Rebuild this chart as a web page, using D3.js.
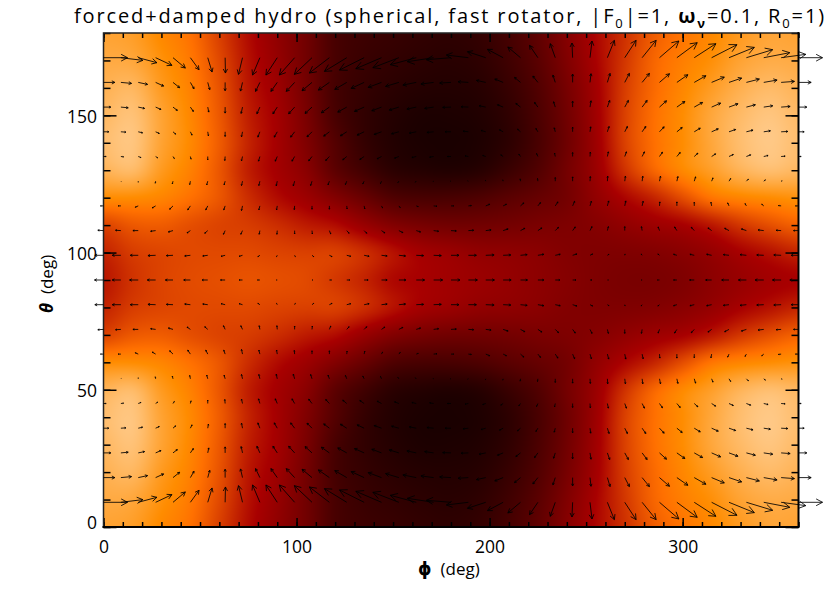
<!DOCTYPE html>
<html>
<head>
<meta charset="utf-8">
<script src="https://cdn.jsdelivr.net/npm/d3@7"></script>
<style>
  body { margin: 0; background: #fff; }
  text { font-family: "Open Sans", sans-serif; fill: #000; }
</style>
</head>
<body>
<div id="chart"></div>
<script>
// Plot constants
const WIDTH = 830;
const HEIGHT = 593;

// Heat field: colour table index
const heatPhi = [0,15,30,45,60,75,90,105,120,135,150,165,180,195,210,225,240,255,270,285,300,315,330,345,360];
const heatTheta = [180,170,160,150,140,130,120,110,100,90,80,70,60,50,40,30,20,10,0];
const heatValues = [
  [203,200,188,176,150,122,100,78,50,42,38,34,32,36,48,66,92,118,142,165,178,188,198,204,203],
  [207,205,193,180,155,125,103,78,50,39,34,30,28,32,44,62,88,116,145,170,183,192,203,208,207],
  [211,214,198,184,160,128,108,80,48,36,29,25,24,27,38,56,82,112,148,172,187,199,210,216,212],
  [215,220,203,187,163,132,112,84,50,34,25,20,20,23,33,52,78,110,150,175,190,205,216,222,216],
  [218,222,203,188,165,135,113,88,58,36,24,19,18,21,31,50,76,108,150,175,190,205,218,224,218],
  [212,216,198,184,162,132,113,95,64,45,30,25,23,27,40,56,80,106,142,170,188,200,212,218,214],
  [190,190,186,176,162,140,122,108,90,72,55,50,50,54,62,70,80,100,118,135,157,178,186,190,193],
  [152,163,165,158,152,148,140,130,122,105,90,82,78,78,80,84,87,92,100,108,115,128,145,158,168],
  [135,148,153,155,155,155,152,150,150,140,125,112,106,100,98,95,90,88,88,90,95,103,115,125,135],
  [128,143,152,156,158,160,158,155,146,135,120,115,110,106,102,97,92,87,84,84,88,97,105,112,116],
  [135,148,153,155,155,155,152,150,150,140,125,112,106,100,98,95,90,88,88,90,95,103,115,125,135],
  [152,163,165,158,152,148,140,130,122,105,90,82,78,78,80,84,87,92,100,108,115,128,145,158,168],
  [190,190,186,176,162,140,122,108,90,72,55,50,50,54,62,70,80,100,118,135,157,178,186,190,193],
  [212,216,198,184,162,132,113,95,64,45,30,25,23,27,40,56,80,106,142,170,188,200,212,218,214],
  [218,222,203,188,165,135,113,88,58,36,24,19,18,21,31,50,76,108,150,175,190,205,218,224,218],
  [215,220,203,187,163,132,112,84,50,34,25,20,20,23,33,52,78,110,150,175,190,205,216,222,216],
  [211,214,198,184,160,128,108,80,48,36,29,25,24,27,38,56,82,112,148,172,187,199,210,216,212],
  [207,205,193,180,155,125,103,78,50,39,34,30,28,32,44,62,88,116,145,170,183,192,203,208,207],
  [203,200,188,176,150,122,100,78,50,42,38,34,32,36,48,66,92,118,142,165,178,188,198,204,203],
];

// Velocity field
const arrowPhi = [0,9,18,27,36,45,54,63,72,81,90,99,108,117,126,135,144,153,162,171,180,189,198,207,216,225,234,243,252,261,270,279,288,297,306,315,324,333,342,351,360];
const arrowTheta = [171,162,153,144,135,126,117,108,99,90,81,72,63,54,45,36,27,18,9];
const arrowU = [
  [72,66,56,49,37,26,13,1,-12,-22,-34,-46,-53,-60,-67,-74,-77,-78,-78,-79,-74,-66,-55,-47,-38,-25,-15,-2,6,21,34,42,58,61,65,76,76,79,78,74,72],
  [34,32,28,24,20,11,6,0,-6,-13,-19,-25,-30,-33,-36,-39,-40,-40,-40,-38,-34,-31,-28,-25,-18,-15,-7,0,3,8,14,22,30,33,35,38,38,39,40,40,38],
  [22,22,19,16,13,9,3,0,-4,-9,-13,-18,-21,-24,-27,-29,-29,-29,-28,-27,-25,-22,-20,-17,-14,-10,-5,0,3,7,11,15,21,24,25,27,27,27,27,27,25],
  [16,15,13,11,8,5,2,0,-3,-6,-9,-12,-15,-17,-19,-21,-22,-22,-21,-20,-18,-16,-14,-11,-9,-6,-3,0,2,5,8,11,14,16,18,20,20,20,20,20,17],
  [8,8,8,6,4,2,0,-1,-3,-4,-6,-8,-10,-11,-12,-13,-13,-13,-13,-12,-11,-10,-9,-7,-5,-4,-2,0,1,3,5,7,9,10,11,12,13,13,13,12,8],
  [0,1,0,-1,-2,-2,-3,-3,-3,-3,-3,-4,-4,-4,-4,-4,-3,-3,-3,-2,-2,-2,-1,-1,-1,-1,0,0,1,1,2,2,3,3,4,4,5,6,5,3,0],
  [-9,-8,-9,-10,-10,-8,-6,-4,-3,-3,-2,-1,0,0,1,2,3,4,6,10,8,9,12,10,10,8,8,6,4,4,3,3,1,0,0,-2,-4,-4,-6,-8,-9],
  [-17,-16,-16,-15,-14,-10,-9,-5,-5,-2,-1,0,1,4,7,8,10,12,13,15,16,16,16,15,13,12,10,8,6,3,0,-2,-4,-7,-9,-11,-13,-15,-17,-15,-15],
  [-26,-26,-24,-23,-20,-17,-15,-12,-10,-6,-2,2,5,8,12,15,17,20,22,23,24,24,25,23,20,18,15,13,8,5,1,-3,-5,-10,-13,-15,-17,-19,-21,-22,-22],
  [-27,-26,-26,-25,-23,-20,-17,-14,-10,-7,-3,0,3,6,9,12,17,21,25,27,27,27,26,24,21,18,14,10,6,3,0,-3,-6,-10,-14,-18,-22,-24,-26,-26,-26],
  [-26,-26,-24,-23,-20,-17,-15,-12,-10,-6,-2,2,5,8,12,15,17,20,22,23,24,24,25,23,20,18,15,13,8,5,1,-3,-5,-10,-13,-15,-17,-19,-21,-22,-22],
  [-17,-16,-16,-15,-14,-10,-9,-5,-5,-2,-1,0,1,4,7,8,10,12,13,15,16,16,16,15,13,12,10,8,6,3,0,-2,-4,-7,-9,-11,-13,-15,-17,-15,-15],
  [-9,-8,-9,-10,-10,-8,-6,-4,-3,-3,-2,-1,0,0,1,2,3,4,6,10,8,9,12,10,10,8,8,6,4,4,3,3,1,0,0,-2,-4,-4,-6,-8,-9],
  [0,1,0,-1,-2,-2,-3,-3,-3,-3,-3,-4,-4,-4,-4,-4,-3,-3,-3,-2,-2,-2,-1,-1,-1,-1,0,0,1,1,2,2,3,3,4,4,5,6,5,3,0],
  [8,8,8,6,4,2,0,-1,-3,-4,-6,-8,-10,-11,-12,-13,-13,-13,-13,-12,-11,-10,-9,-7,-5,-4,-2,0,1,3,5,7,9,10,11,12,13,13,13,12,8],
  [16,15,13,11,8,5,2,0,-3,-6,-9,-12,-15,-17,-19,-21,-22,-22,-21,-20,-18,-16,-14,-11,-9,-6,-3,0,2,5,8,11,14,16,18,20,20,20,20,20,17],
  [22,22,19,16,13,9,3,0,-4,-9,-13,-18,-21,-24,-27,-29,-29,-29,-28,-27,-25,-22,-20,-17,-14,-10,-5,0,3,7,11,15,21,24,25,27,27,27,27,27,25],
  [34,32,28,24,20,11,6,0,-6,-13,-19,-25,-30,-33,-36,-39,-40,-40,-40,-38,-34,-31,-28,-25,-18,-15,-7,0,3,8,14,22,30,33,35,38,38,39,40,40,38],
  [72,66,56,49,37,26,13,1,-12,-22,-34,-46,-53,-60,-67,-74,-77,-78,-78,-79,-74,-66,-55,-47,-38,-25,-15,-2,6,21,34,42,58,61,65,76,76,79,78,74,72],
];
// positive = down the page
const arrowV = [
  [0,8,15,23,31,36,43,46,50,52,52,52,50,46,41,37,33,30,21,12,6,-8,-18,-25,-32,-37,-42,-44,-50,-52,-52,-52,-50,-45,-42,-39,-31,-24,-15,-10,0],
  [0,3,6,11,16,19,22,25,26,27,27,27,25,23,21,18,15,12,8,5,2,-2,-6,-10,-15,-19,-22,-25,-26,-27,-27,-27,-26,-23,-20,-16,-13,-10,-7,-3,0],
  [0,2,4,7,10,13,15,18,19,20,20,20,19,17,15,13,11,9,6,4,1,-1,-4,-7,-11,-14,-16,-18,-19,-20,-20,-20,-19,-17,-14,-12,-10,-7,-4,-2,0],
  [0,1,3,5,7,10,12,14,15,16,16,16,15,13,12,10,8,6,4,2,0,-2,-4,-6,-8,-10,-12,-14,-15,-16,-16,-16,-15,-13,-11,-9,-7,-5,-3,-1,0],
  [0,1,3,4,6,8,10,12,13,14,14,14,13,12,10,9,7,5,3,2,0,-2,-3,-5,-7,-9,-10,-12,-13,-14,-14,-14,-13,-12,-10,-8,-6,-5,-3,-1,0],
  [0,1,3,6,8,10,11,11,13,13,14,14,13,11,10,8,7,4,3,1,0,-1,-3,-4,-7,-8,-11,-13,-14,-15,-15,-15,-15,-14,-13,-10,-8,-6,-4,-1,0],
  [0,0,4,6,10,12,12,12,14,12,12,11,10,10,9,9,6,5,2,1,0,-1,-5,-5,-9,-10,-12,-14,-14,-15,-15,-14,-12,-12,-11,-11,-9,-7,-5,-1,0],
  [-1,-1,0,2,4,7,8,11,11,11,11,10,10,10,8,8,7,6,4,2,1,-1,-2,-5,-7,-8,-10,-11,-12,-12,-12,-12,-11,-11,-10,-8,-7,-5,-2,-1,0],
  [0,0,0,1,1,2,2,3,3,4,4,4,4,4,3,3,2,2,1,1,0,0,-1,-1,-2,-3,-3,-4,-4,-3,-4,-4,-4,-3,-3,-3,-2,-2,-1,-1,0],
  [0,0,0,0,0,0,0,0,0,0,0,0,0,0,0,0,0,0,0,0,0,0,0,0,0,0,0,0,0,0,0,0,0,0,0,0,0,0,0,0,0],
  [0,0,0,-1,-1,-2,-2,-3,-3,-4,-4,-4,-4,-4,-3,-3,-2,-2,-1,-1,0,0,1,1,2,3,3,4,4,3,4,4,4,3,3,3,2,2,1,1,0],
  [1,1,0,-2,-4,-7,-8,-11,-11,-11,-11,-10,-10,-10,-8,-8,-7,-6,-4,-2,-1,1,2,5,7,8,10,11,12,12,12,12,11,11,10,8,7,5,2,1,0],
  [0,0,-4,-6,-10,-12,-12,-12,-14,-12,-12,-11,-10,-10,-9,-9,-6,-5,-2,-1,0,1,5,5,9,10,12,14,14,15,15,14,12,12,11,11,9,7,5,1,0],
  [0,-1,-3,-6,-8,-10,-11,-11,-13,-13,-14,-14,-13,-11,-10,-8,-7,-4,-3,-1,0,1,3,4,7,8,11,13,14,15,15,15,15,14,13,10,8,6,4,1,0],
  [0,-1,-3,-4,-6,-8,-10,-12,-13,-14,-14,-14,-13,-12,-10,-9,-7,-5,-3,-2,0,2,3,5,7,9,10,12,13,14,14,14,13,12,10,8,6,5,3,1,0],
  [0,-1,-3,-5,-7,-10,-12,-14,-15,-16,-16,-16,-15,-13,-12,-10,-8,-6,-4,-2,0,2,4,6,8,10,12,14,15,16,16,16,15,13,11,9,7,5,3,1,0],
  [0,-2,-4,-7,-10,-13,-15,-18,-19,-20,-20,-20,-19,-17,-15,-13,-11,-9,-6,-4,-1,1,4,7,11,14,16,18,19,20,20,20,19,17,14,12,10,7,4,2,0],
  [0,-3,-6,-11,-16,-19,-22,-25,-26,-27,-27,-27,-25,-23,-21,-18,-15,-12,-8,-5,-2,2,6,10,15,19,22,25,26,27,27,27,26,23,20,16,13,10,7,3,0],
  [0,-8,-15,-23,-31,-36,-43,-46,-50,-52,-52,-52,-50,-46,-41,-37,-33,-30,-21,-12,-6,8,18,25,32,37,42,44,50,52,52,52,50,45,42,39,31,24,15,10,0],
];

const xMajor = [0,100,200,300];
const xMinor = d3.range(0,361,10);
const yMajor = [0,50,100,150];
const yMinor = d3.range(0,181,10);

const x = d3.scaleLinear().domain([0,360]).range([103.5,798.5]);
const y = d3.scaleLinear().domain([0,180]).range([527,33]);
// one arrow unit is a third of a pixel
const arrowScale = d3.scaleLinear().domain([0,3]).range([0,1]);
// IDL red temperature table
const colorScale = d3.scaleLinear()
  .domain([0,116,176,190,255])
  .range(["#000000","#a80000","#ff7000","#ff8c00","#ffffff"])
  .clamp(true);

const svg = d3.select("#chart").append("svg").attr("width",WIDTH).attr("height",HEIGHT).style("display","block");

// Catmull-Rom between samples, so the picture is smooth like the original raster
function cubic(p0,p1,p2,p3,t) {
  return 0.5*(2*p1+(p2-p0)*t+(2*p0-5*p1+4*p2-p3)*t*t+(3*p1-p0-3*p2+p3)*t*t*t);
}
const rowScale = d3.scaleLinear().domain(d3.extent(heatTheta)).range([heatTheta.length-1,0]);
const colScale = d3.scaleLinear().domain(d3.extent(heatPhi)).range([0,heatPhi.length-1]);
function cell(r,c) {
  r = Math.max(0,Math.min(heatTheta.length-1,r));
  c = Math.max(0,Math.min(heatPhi.length-1,c));
  return heatValues[r][c];
}
function heatAt(phi,theta) {
  const rf = rowScale(theta), cf = colScale(phi);
  const r = Math.floor(rf), c = Math.floor(cf);
  const rows = [-1,0,1,2].map(dr => cubic(cell(r+dr,c-1),cell(r+dr,c),cell(r+dr,c+1),cell(r+dr,c+2),cf-c));
  return cubic(rows[0],rows[1],rows[2],rows[3],rf-r);
}

// Image
const x0 = Math.round(x.range()[0]), x1 = Math.round(x.range()[1]);
const y0 = Math.round(y.range()[1]), y1 = Math.round(y.range()[0]);
const canvas = document.createElement("canvas");
canvas.width = x1-x0;
canvas.height = y1-y0;
const ctx = canvas.getContext("2d");
for (let j=0;j<canvas.height;j++) {
  for (let i=0;i<canvas.width;i++) {
    ctx.fillStyle = colorScale(heatAt(x.invert(x0+i+0.5),y.invert(y0+j+0.5)));
    ctx.fillRect(i,j,1,1);
  }
}
svg.append("image")
  .attr("x",x0).attr("y",y0)
  .attr("width",canvas.width).attr("height",canvas.height)
  .attr("href",canvas.toDataURL());

// Axes
function addAxis(axis,tx,ty) {
  const g = svg.append("g").attr("transform",`translate(${tx},${ty})`).call(axis);
  g.select(".domain").remove();
  g.selectAll("line").attr("stroke","#000").attr("stroke-width",1.5);
  return g;
}
const bottom = y(0), top_ = y(180), left = x(0), right = x(360);
const noText = () => "";
addAxis(d3.axisTop(x).tickValues(xMinor).tickSize(5).tickFormat(noText),0,bottom);
addAxis(d3.axisBottom(x).tickValues(xMinor).tickSize(5).tickFormat(noText),0,top_);
addAxis(d3.axisRight(y).tickValues(yMinor).tickSize(7).tickFormat(noText),left,0);
addAxis(d3.axisLeft(y).tickValues(yMinor).tickSize(7).tickFormat(noText),right,0);
addAxis(d3.axisBottom(x).tickValues(xMajor).tickSize(9).tickFormat(noText),0,top_);
addAxis(d3.axisLeft(y).tickValues(yMajor).tickSize(13).tickFormat(noText),right,0);

const xLabels = addAxis(d3.axisTop(x).tickValues(xMajor).tickSize(9).tickFormat(d3.format("d")),0,bottom);
xLabels.selectAll("text")
  .attr("y",25.5).attr("dy",0)
  .attr("font-size",17.5).attr("font-family","'Open Sans', sans-serif");
const yLabels = addAxis(d3.axisRight(y).tickValues(yMajor).tickSize(13).tickFormat(d3.format("d")),left,0);
yLabels.selectAll("text")
  .attr("x",-6.5).attr("dy",d => d === 0 ? 1 : 7)
  .attr("text-anchor","end")
  .attr("font-size",17.5).attr("font-family","'Open Sans', sans-serif");

// Frame
const frame = svg.append("g").attr("fill","none").attr("stroke-linecap","square");
frame.append("path").attr("d",`M${left},${bottom}V${top_}H${right}`).attr("stroke","#222").attr("stroke-width",1.5);
frame.append("path").attr("d",`M${left},${bottom}H${right}V${top_}`).attr("stroke","#000").attr("stroke-width",2);

// Arrows, tail on the grid point, open head 0.3 of the length
const arrows = [];
arrowTheta.forEach((theta,r) => {
  arrowPhi.forEach((phi,c) => {
    arrows.push({phi,theta,u:arrowU[r][c],v:arrowV[r][c]});
  });
});
svg.append("g").selectAll("path").data(arrows).join("path")
  .attr("fill","none").attr("stroke","#000").attr("stroke-width",0.85)
  .attr("d",d => {
    const px = x(d.phi), py = y(d.theta);
    const dx = arrowScale(d.u), dy = arrowScale(d.v);
    const hx = px+dx, hy = py+dy;
    const ang = Math.atan2(dy,dx), len = Math.hypot(dx,dy)*0.3, a = 28*Math.PI/180;
    const p = d3.path();
    p.moveTo(px,py);
    p.lineTo(hx,hy);
    p.lineTo(hx-len*Math.cos(ang-a),hy-len*Math.sin(ang-a));
    p.moveTo(hx,hy);
    p.lineTo(hx-len*Math.cos(ang+a),hy-len*Math.sin(ang+a));
    return p.toString();
  });

// Titles
const title = svg.append("text").attr("x",74).attr("y",23).attr("font-size",20);
[
  ["forced+damped hydro (spherical, fast rotator, |F"],
  ["0",13,5],
  ["|=1, "],
  ["ω",20,-5,"bold"],
  ["ν",13,5,"bold"],
  ["=0.1, R"],
  ["0",13,5],
  ["=1)"],
].forEach((s,i,arr) => {
  const prev = i ? arr[i-1][2] || 0 : 0;
  title.append("tspan")
    .attr("dy",(s[2]>0 ? s[2] : 0)-(prev>0 ? prev : 0))
    .attr("font-size",s[1] || 20)
    .attr("font-weight",s[3] || null)
    .text(s[0]);
});
const chars = title.text().length;
title.attr("letter-spacing",(752-title.node().getComputedTextLength())/chars);

const xTitle = svg.append("text").attr("x",418).attr("y",575).attr("font-size",17);
xTitle.append("tspan").attr("font-weight","bold").attr("font-family","'DejaVu Sans'").text("ϕ");
xTitle.append("tspan").attr("dx",9).text("(deg)");

const yTitle = svg.append("text").attr("transform","translate(53,313) rotate(-90)").attr("font-size",17);
yTitle.append("tspan").attr("font-weight","bold").attr("font-style","italic").text("θ");
yTitle.append("tspan").attr("dx",9).text("(deg)");
</script>
</body>
</html>
